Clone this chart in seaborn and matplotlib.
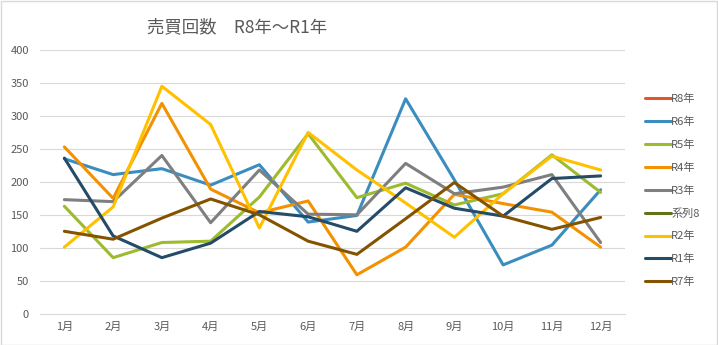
import numpy as np
import pandas as pd
import matplotlib
matplotlib.use("Agg")
import matplotlib.pyplot as plt
from matplotlib.lines import Line2D
import seaborn as sns

months = ["1月", "2月", "3月", "4月", "5月", "6月", "7月", "8月", "9月", "10月", "11月", "12月"]
series_names = ["R8年", "R6年", "R5年", "R4年", "R3年", "系列8", "R2年", "R1年", "R7年"]

r8 = [np.nan] * 12
r6 = [235, 211, 220, 195, 226, 139, 149, 326, 203, 74, 104, 188]
r5 = [163, 85, 108, 110, 177, 273, 176, 198, 165, 182, 241, 184]
r4 = [253, 175, 319, 189, 153, 171, 59, 101, 181, 167, 154, 101]
r3 = [173, 170, 240, 138, 218, 151, 150, 228, 182, 192, 211, 108]
s8 = [np.nan] * 12
r2 = [101, 162, 345, 287, 130, 275, 218, 168, 116, 182, 239, 218]
r1 = [236, 118, 85, 107, 155, 147, 125, 191, 160, 148, 205, 209]
r7 = [125, 113, 145, 174, 150, 110, 90, 144, 199, 148, 128, 146]

values = [r8, r6, r5, r4, r3, s8, r2, r1, r7]
colors = ["#E0582A", "#3B8DC0", "#9CBB2F", "#F39200", "#7F7F7F",
          "#5F7317", "#FFC000", "#244B67", "#845300"]

rows = []
for name, vals in zip(series_names, values):
    for i, v in enumerate(vals):
        rows.append({"month": i, "value": v, "series": name})
df = pd.DataFrame(rows)

sns.set_theme(style="white")
plt.rcParams["font.family"] = ["Noto Sans CJK JP", "DejaVu Sans"]

fig = plt.figure(figsize=(7.18, 3.45), dpi=100)
W, H = 718, 345
ax = fig.add_axes([40 / W, (H - 313.7) / H, (625 - 40) / W, (313.7 - 50) / H])

palette = dict(zip(series_names, colors))
plot_df = df.dropna()
sns.lineplot(data=plot_df, x="month", y="value", hue="series", palette=palette,
             hue_order=[s for s in series_names if s in plot_df["series"].unique()],
             estimator=None, linewidth=2.2, ax=ax, legend=False)

ax.set_xlim(-0.5, 11.5)
ax.set_ylim(0, 400)
ax.set_yticks(range(0, 401, 50))
ax.set_xticks(range(12))
ax.set_xticklabels(months)
ax.set_xlabel("")
ax.set_ylabel("")
ax.grid(axis="y", color="#D9D9D9", linewidth=0.8)
ax.set_axisbelow(True)
for s in ["top", "right", "left"]:
    ax.spines[s].set_visible(False)
ax.spines["bottom"].set_color("#D9D9D9")
ax.spines["bottom"].set_linewidth(0.8)
ax.tick_params(axis="both", length=0, colors="#595959", labelsize=8)
ax.tick_params(axis="x", pad=6)
ax.tick_params(axis="y", pad=8)

fig.text(237 / W, 1 - 27 / H, "売買回数　R8年～R1年", ha="center", va="center",
         fontsize=12.5, color="#595959")

handles = [Line2D([0], [0], color=c, linewidth=2.2) for c in colors]
leg = fig.legend(handles, series_names, loc="upper left",
                 bbox_to_anchor=(645 / W, 1 - 94 / H), frameon=False,
                 fontsize=8, handlelength=2.3, handletextpad=0.05,
                 labelspacing=1.12, borderaxespad=0, borderpad=0)
for t in leg.get_texts():
    t.set_color("#595959")

fig.patches.append(plt.Rectangle((0.5 / W, 0.5 / H), 1 - 1.5 / W, 1 - 1.5 / H,
                                 transform=fig.transFigure, fill=False,
                                 edgecolor="#D9D9D9", linewidth=1))

fig.savefig("out.png", dpi=100, facecolor="white")
